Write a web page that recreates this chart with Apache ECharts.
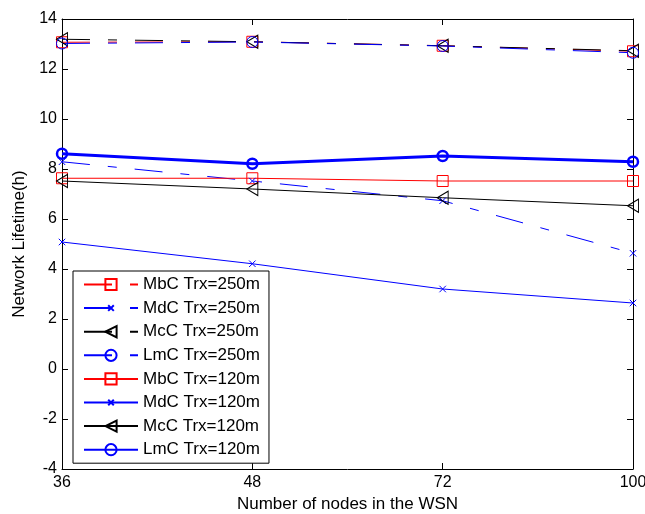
<!DOCTYPE html>
<html>
<head>
<meta charset="utf-8">
<script src="https://cdn.jsdelivr.net/npm/echarts@6/dist/echarts.min.js"></script>
<style>
html,body{margin:0;padding:0;background:#fff;}
#chart{width:645px;height:514px;}
</style>
</head>
<body>
<div id="chart"></div>
<script>
// ---- data ----
var categories = ['36', '48', '72', '100'];
var seriesNames = ['MbC Trx=250m', 'MdC Trx=250m', 'McC Trx=250m', 'LmC Trx=250m',
                   'MbC Trx=120m', 'MdC Trx=120m', 'McC Trx=120m', 'LmC Trx=120m'];
var mbc250 = [13.07, 13.09, 12.93, 12.71];
var mdc250 = [8.29, 7.52, 6.73, 4.63];
var mcc250 = [13.19, 13.09, 12.93, 12.73];
var lmc250 = [13.02, 13.08, 12.92, 12.65];
var mbc120 = [7.63, 7.63, 7.52, 7.52];
var mdc120 = [5.08, 4.21, 3.20, 2.64];
var mcc120 = [7.52, 7.20, 6.85, 6.53];
var lmc120 = [8.61, 8.21, 8.52, 8.29];
var yTicks = { min: -4, max: 14, step: 2 };

// ---- styles ----
var RED = '#ff0000', BLUE = '#0000ff', BLACK = '#000000';
var FONT = 'Liberation Sans, Arial, sans-serif';
var DASHDOT = [28, 18, 9, 18];
var XSYM = 'path://M-5,-5L-5,-5M0,0L10,10M0,10L10,0M15,15L15,15';

function mk(name, data, color, dashed, symbol, size, rotate, width, bw) {
  return {
    name: name, type: 'line', data: data,
    symbol: symbol, symbolSize: size, symbolRotate: rotate || 0,
    showSymbol: true,
    lineStyle: { color: color, width: width, type: dashed ? DASHDOT : 'solid' },
    itemStyle: { color: 'rgba(0,0,0,0)', borderColor: color, borderWidth: bw },
    emphasis: { disabled: true },
    animation: false
  };
}

var series = [
  mk(seriesNames[0], mbc250, RED, true, 'rect', 11, 0, 1, 1),
  mk(seriesNames[1], mdc250, BLUE, true, XSYM, 13, 0, 1, 1),
  mk(seriesNames[2], mcc250, BLACK, true, 'triangle', [13, 11], 90, 1, 1),
  mk(seriesNames[3], lmc250, BLUE, true, 'circle', 11, 0, 1, 1),
  mk(seriesNames[4], mbc120, RED, false, 'rect', 11, 0, 1, 1),
  mk(seriesNames[5], mdc120, BLUE, false, XSYM, 13, 0, 1, 1),
  mk(seriesNames[6], mcc120, BLACK, false, 'triangle', [13, 11], 90, 1, 1),
  mk(seriesNames[7], lmc120, BLUE, false, 'circle', 10, 0, 3, 2.5)
];

var tickStyle = { show: true, inside: true, length: 6, lineStyle: { color: BLACK, width: 1 } };
var axisLine = { show: true, onZero: false, lineStyle: { color: BLACK, width: 1 } };

var chart = echarts.init(document.getElementById('chart'), null, { renderer: 'canvas' });
chart.setOption({
  backgroundColor: '#fff',
  animation: false,
  textStyle: { fontFamily: FONT, color: BLACK },
  grid: { left: 62, right: 12, top: 19, bottom: 45, containLabel: false, outerBoundsMode: 'none' },
  xAxis: [{
    type: 'category', data: categories, boundaryGap: false, position: 'bottom',
    axisLine: axisLine, axisTick: Object.assign({ alignWithLabel: true }, tickStyle),
    axisLabel: { fontSize: 16, color: BLACK, margin: 6, fontFamily: FONT },
    splitLine: { show: false },
    name: 'Number of nodes in the WSN', nameLocation: 'middle', nameGap: 27,
    nameTextStyle: { fontSize: 17, color: BLACK, fontFamily: FONT }
  }, {
    type: 'category', data: categories, boundaryGap: false, position: 'top',
    axisLine: axisLine, axisTick: tickStyle, axisLabel: { show: false }, splitLine: { show: false }
  }],
  yAxis: [{
    type: 'value', min: yTicks.min, max: yTicks.max, interval: yTicks.step, position: 'left',
    axisLine: axisLine, axisTick: tickStyle,
    axisLabel: { fontSize: 16, color: BLACK, margin: 5, fontFamily: FONT },
    splitLine: { show: false },
    name: 'Network Lifetime(h)', nameLocation: 'middle', nameGap: 31,
    nameTextStyle: { fontSize: 17, color: BLACK, fontFamily: FONT }
  }, {
    type: 'value', min: yTicks.min, max: yTicks.max, interval: yTicks.step, position: 'right',
    axisLine: axisLine, axisTick: tickStyle, axisLabel: { show: false }, splitLine: { show: false }
  }],
  legend: {
    data: seriesNames,
    orient: 'vertical',
    left: 73, top: 271,
    padding: [5, 9, 5, 10],
    itemWidth: 54, itemHeight: 14, itemGap: 6.6,
    backgroundColor: '#fff',
    borderColor: BLACK, borderWidth: 1, borderRadius: 0,
    selectedMode: false,
    textStyle: { fontSize: 17, color: BLACK, fontFamily: FONT, lineHeight: 14 }
  },
  series: series
});
</script>
</body>
</html>
